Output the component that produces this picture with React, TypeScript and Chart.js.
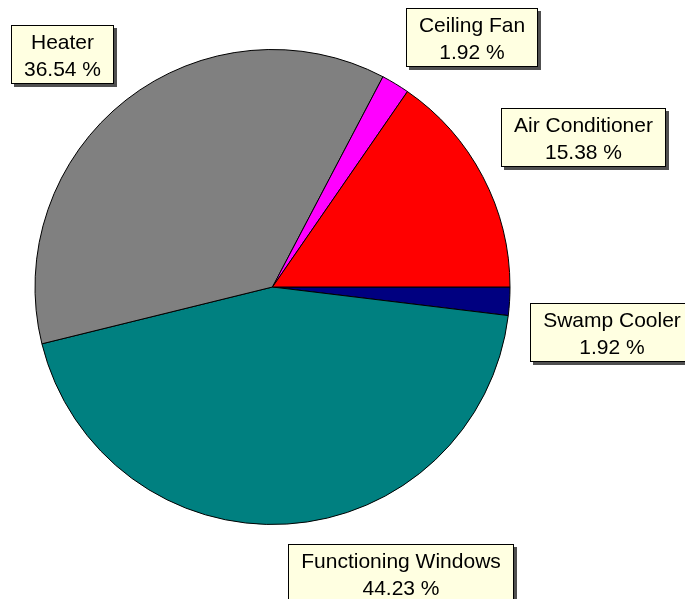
import React, { useEffect, useRef } from "react";
import { Chart, registerables } from "chart.js";

Chart.register(...registerables);

// Slices listed clockwise starting from 3 o'clock
const categories = ["Swamp Cooler", "Functioning Windows", "Heater", "Ceiling Fan", "Air Conditioner"];
const percentValues = [1.92, 44.23, 36.54, 1.92, 15.38];
const sliceColors = ["#000080", "#008080", "#808080", "#FF00FF", "#FF0000"];

const labelPlugin = {
  id: "boxLabels",
  afterDatasetsDraw(chart: any) {
    const ctx = chart.ctx as CanvasRenderingContext2D;
    const meta = chart.getDatasetMeta(0);
    const ds = chart.data.datasets[0];
    ctx.save();
    ctx.font = '21px "Liberation Sans"';
    meta.data.forEach((arc: any, i: number) => {
      const { x, y, startAngle, endAngle, outerRadius } = arc.getProps(
        ["x", "y", "startAngle", "endAngle", "outerRadius"],
        true
      );
      const mid = (startAngle + endAngle) / 2;
      const r = outerRadius + 20;
      const ax = x + Math.cos(mid) * r;
      const ay = y + Math.sin(mid) * r;
      const line1 = String(chart.data.labels[i]);
      const line2 = `${Number(ds.data[i]).toFixed(2)} %`;
      const tw = Math.max(ctx.measureText(line1).width, ctx.measureText(line2).width);
      const w = Math.round(tw + 26);
      const h = 59;
      const left = Math.round(Math.cos(mid) >= 0 ? ax : ax - w);
      const top = Math.round(Math.sin(mid) >= 0 ? ay : ay - h);
      // shadow
      ctx.fillStyle = "#505050";
      ctx.fillRect(left + 3, top + 3, w, h);
      // box
      ctx.fillStyle = "#FFFFE1";
      ctx.fillRect(left, top, w, h);
      ctx.strokeStyle = "#000000";
      ctx.lineWidth = 1;
      ctx.strokeRect(left + 0.5, top + 0.5, w - 1, h - 1);
      ctx.fillStyle = "#000000";
      ctx.textAlign = "center";
      ctx.textBaseline = "alphabetic";
      ctx.fillText(line1, left + w / 2, top + 24);
      ctx.fillText(line2, left + w / 2, top + 51);
    });
    ctx.restore();
  },
};

export default function App() {
  const canvasRef = useRef<HTMLCanvasElement | null>(null);

  useEffect(() => {
    if (!canvasRef.current) return;
    const chart = new Chart(canvasRef.current, {
      type: "pie",
      data: {
        labels: categories,
        datasets: [
          {
            data: percentValues,
            backgroundColor: sliceColors,
            borderColor: "#000000",
            borderWidth: 1,
          },
        ],
      },
      options: {
        responsive: false,
        animation: false,
        rotation: 90,
        layout: { padding: { left: 34, right: 174, top: 49, bottom: 74 } },
        plugins: {
          legend: { display: false },
          tooltip: { enabled: false },
        },
      },
      plugins: [labelPlugin],
    });
    return () => chart.destroy();
  }, []);

  return (
    <div style={{ position: "fixed", left: 0, top: 0, width: 685, height: 599, background: "#ffffff" }}>
      <canvas ref={canvasRef} width={685} height={599} style={{ width: 685, height: 599 }} />
    </div>
  );
}
